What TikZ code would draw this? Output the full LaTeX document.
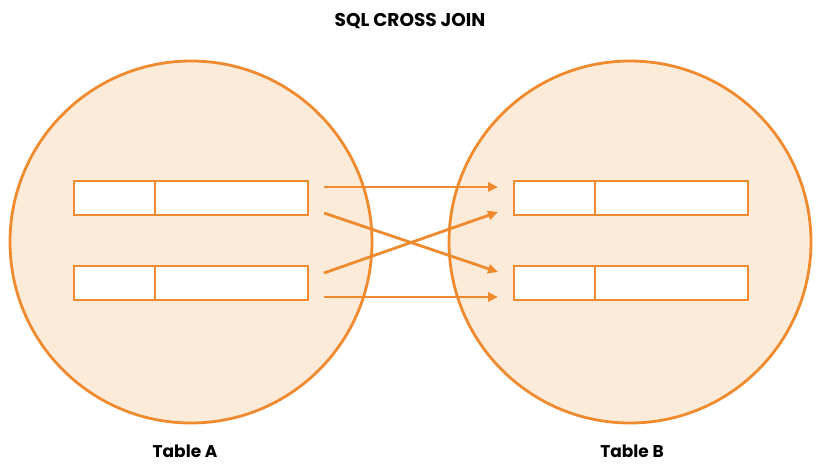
\documentclass[tikz,border=0pt]{standalone}
\usepackage{fontspec}
\setmainfont{Poppins}
\usetikzlibrary{arrows.meta}
\definecolor{org}{HTML}{EF8A2E}
\definecolor{peach}{HTML}{FDEBD9}
\begin{document}
\begin{tikzpicture}[x=1pt,y=-1pt,
  rec/.style={draw=org,line width=2.8pt,fill=white},
  arr/.style={draw=org,line width=2.8pt,-{Triangle[length=10pt,width=9pt]}},
  ttl/.style={font=\bfseries\fontsize{18.5}{20}\selectfont},
  lbl/.style={font=\bfseries\fontsize{17}{19}\selectfont}]
\useasboundingbox (0,0) rectangle (826,475);
\fill[peach,even odd rule] (191,242) circle (181) (630,242) circle (181);
\draw[org,line width=2.8pt] (191,242) circle (181);
\draw[org,line width=2.8pt] (630,242) circle (181);
\node[ttl] (title) at (410,21) {SQL CROSS JOIN};
\node[lbl] (la) at (185,451) {Table A};
\node[lbl] (lb) at (632,451) {Table B};
% rows
\foreach \n/\x/\y in {a1/74/181,a2/74/266,b1/514/181,b2/514/266}{
  \draw[rec] (\x,\y) rectangle ++(234,34);
  \draw[org,line width=2.8pt] (\x+81,\y) -- (\x+81,\y+34);
}
\coordinate (s1) at (324,187);
\coordinate (s2) at (324,213);
\coordinate (s3) at (324,273);
\coordinate (s4) at (324,297);
\coordinate (e1) at (498,187);
\coordinate (e2) at (498,212);
\coordinate (e3) at (498,272);
\coordinate (e4) at (498,297);
\draw[arr] (s1) -- (e1);
\draw[arr] (s2) -- (e3);
\draw[arr] (s3) -- (e2);
\draw[arr] (s4) -- (e4);
\end{tikzpicture}
\end{document}
